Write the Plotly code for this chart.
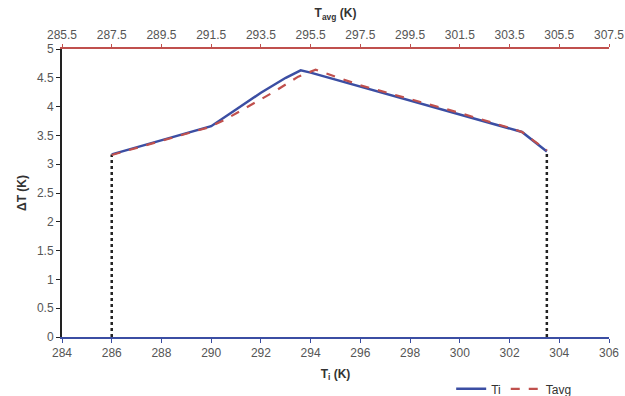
import plotly.graph_objects as go

# Inlet temperature T_i (K) and temperature rise (K)
ti_temp = [286.0, 288.0, 290.0, 291.0, 292.0, 293.0, 293.6, 294.0, 296.0, 298.0, 300.0, 302.0, 302.5, 303.5]
ti_dt = [3.17, 3.42, 3.66, 3.95, 4.24, 4.50, 4.63, 4.59, 4.35, 4.11, 3.87, 3.62, 3.56, 3.22]

# Average temperature T_avg (K) and temperature rise (K)
tavg_temp = [287.5, 289.5, 291.4, 292.0, 293.0, 294.0, 295.0, 295.7, 297.5, 299.5, 301.5, 303.5, 304.0, 305.0]
tavg_dt = [3.16, 3.41, 3.64, 3.76, 4.00, 4.25, 4.52, 4.64, 4.37, 4.13, 3.89, 3.63, 3.56, 3.24]

# Operating limits drawn as dotted verticals
limit_left_x = [286.0, 286.0]
limit_left_y = [0.0, 3.17]
limit_right_x = [303.5, 303.5]
limit_right_y = [0.0, 3.22]

bottom_ticks = list(range(284, 307, 2))
top_ticks = [285.5 + 2 * i for i in range(12)]
y_ticks = [0.5 * i for i in range(11)]

BLUE = "#3b4ea3"
RED = "#c0504d"
GREY = "#555555"
FONT = "Liberation Sans, Arial, sans-serif"

fig = go.Figure()

fig.add_trace(go.Scatter(x=limit_left_x, y=limit_left_y, mode="lines",
                         line=dict(color="#222222", width=2.5, dash="dot"),
                         showlegend=False, hoverinfo="skip"))
fig.add_trace(go.Scatter(x=limit_right_x, y=limit_right_y, mode="lines",
                         line=dict(color="#222222", width=2.5, dash="dot"),
                         showlegend=False, hoverinfo="skip"))
fig.add_trace(go.Scatter(x=ti_temp, y=ti_dt, mode="lines", name="Ti",
                         line=dict(color=BLUE, width=2.5)))
fig.add_trace(go.Scatter(x=tavg_temp, y=tavg_dt, mode="lines", name="Tavg",
                         xaxis="x2",
                         line=dict(color=RED, width=2.2, dash="dash")))

axis_font = dict(family=FONT, size=12, color=GREY)
title_font = dict(family=FONT, size=12, color="#333333")

fig.update_layout(
    width=625, height=396,
    margin=dict(l=62, r=16, t=49, b=59, autoexpand=False),
    paper_bgcolor="white", plot_bgcolor="white",
    font=dict(family=FONT, color=GREY),
    xaxis=dict(range=[284, 306], tickvals=bottom_ticks,
               ticktext=[str(v) for v in bottom_ticks],
               showgrid=False, zeroline=False, automargin=False,
               ticklabeloverflow="allow",
               showline=True, linecolor=BLUE, linewidth=2,
               ticks="outside", ticklen=4, tickcolor=BLUE,
               tickfont=axis_font,
               title=dict(text="<b>T<sub>i</sub> (K)</b>", font=title_font, standoff=10)),
    xaxis2=dict(range=[285.5, 307.5], tickvals=top_ticks,
                ticktext=[f"{v:.1f}" for v in top_ticks],
                overlaying="x", side="top", anchor="y",
                showgrid=False, zeroline=False, automargin=False,
                ticklabeloverflow="allow",
                showline=True, linecolor=RED, linewidth=2,
                ticks="outside", ticklen=3, tickcolor=RED,
                tickfont=axis_font,
                title=dict(text="<b>T<sub>avg</sub> (K)</b>", font=title_font, standoff=8)),
    yaxis=dict(range=[0, 5], tickvals=y_ticks,
               ticktext=[f"{v:g}" for v in y_ticks],
               showgrid=False, zeroline=False, automargin=False,
               showline=True, linecolor="#222222", linewidth=2,
               ticks="outside", ticklen=4, tickcolor="#222222",
               tickfont=axis_font,
               title=dict(text="<b>ΔT (K)</b>", font=title_font, standoff=8)),
    legend=dict(orientation="h", x=0.94, xanchor="right", y=-0.18, yanchor="middle",
                font=dict(family=FONT, size=12, color="#333333"),
                bgcolor="rgba(0,0,0,0)", itemwidth=30, tracegroupgap=0),
    showlegend=True,
)

fig.write_html("out.html")
